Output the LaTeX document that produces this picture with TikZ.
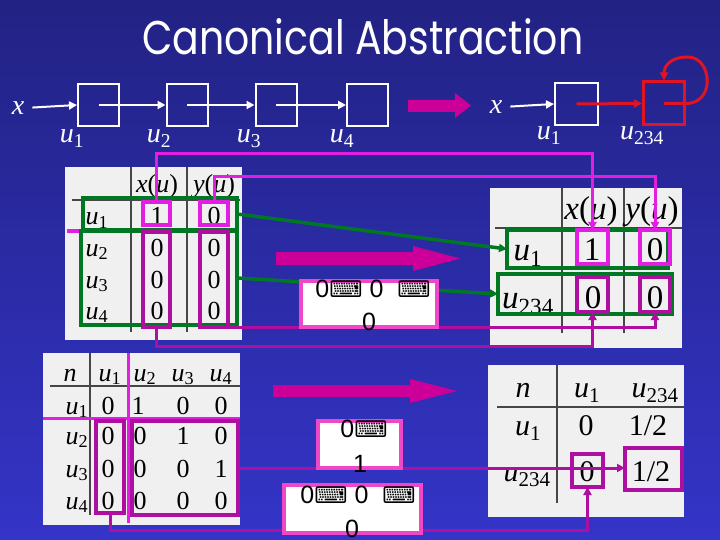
\documentclass[tikz,border=0pt]{standalone}
\usepackage{fontspec}
\setmainfont{Liberation Serif}
\newfontfamily\lsans{Liberation Sans}
\newfontfamily\dvs{DejaVu Sans}
\newfontfamily\ttlfont{Poppins}
\usetikzlibrary{arrows.meta}
\definecolor{bgtop}{RGB}{34,34,132}
\definecolor{bgbot}{RGB}{52,52,200}
\definecolor{lmagc}{RGB}{225,30,225}
\definecolor{dmagc}{RGB}{175,15,160}
\definecolor{bigc}{RGB}{204,0,153}
\definecolor{pinkc}{RGB}{240,70,200}
\definecolor{grnc}{RGB}{0,120,35}
\definecolor{redc}{RGB}{225,20,35}
\definecolor{tabc}{RGB}{240,240,240}
\definecolor{sepc}{RGB}{70,70,70}
\newcommand\uv[1]{\textit{u}\textsubscript{\upshape #1}}
\newcommand\kb{{\dvs\fontsize{23}{23}\selectfont ⌨}}
\newcommand\mkrect[6]{\node[#6, inner sep=0pt, outer sep=0pt, minimum width={(#4)-(#2)}, minimum height={(#5)-(#3)}] (#1) at ({((#2)+(#4))/2},{((#3)+(#5))/2}) {};}
\begin{document}
\begin{tikzpicture}[x=1pt,y=-1pt,
  wbox/.style={draw=white, line width=2pt, minimum width=41pt, minimum height=42pt, inner sep=0pt},
  wline/.style={white, line width=2pt},
  arr/.style={-{Triangle[length=8pt,width=8pt]}},
  lm/.style={draw=lmagc, line width=3.5pt},
  dm/.style={draw=dmagc, line width=3.5pt},
  gr/.style={draw=grnc, line width=4pt},
  tabbg/.style={fill=tabc},
  sepl/.style={draw=sepc, line width=1.2pt},
  rulel/.style={draw=sepc, line width=1.5pt},
  lbl/.style={text=white, inner sep=0pt, font=\fontsize{28}{30}\selectfont},
  ta/.style={inner sep=0pt, anchor=base, font=\fontsize{26}{28}\selectfont},
  tb/.style={inner sep=0pt, anchor=base, font=\fontsize{33}{35}\selectfont},
  tc/.style={inner sep=0pt, anchor=base, font=\fontsize{26}{28}\selectfont},
  td/.style={inner sep=0pt, anchor=base, font=\fontsize{30}{32}\selectfont},
  wmid/.style={fill=white, draw=pinkc, line width=4pt},
  mtx/.style={inner sep=0pt, align=center, font=\lsans\fontsize{25}{33}\selectfont}
]
\useasboundingbox (0,0) rectangle (720,540);
\shade[top color=bgtop, bottom color=bgbot] (0,0) rectangle (720,540);

% title
\node[anchor=south west, inner sep=0pt, text=white] (title) at (142,55)
  {\resizebox{441pt}{36pt}{\ttlfont Canonical Abstraction}};

% left list
\node[lbl] (xa) at (18,108) {\textit{x}};
\node[wbox] (a1) at (98.5,105) {};
\node[wbox] (a2) at (187,105) {};
\node[wbox] (a3) at (276,105) {};
\node[wbox] (a4) at (367.5,105) {};
\draw[wline,arr,shorten <=8pt] (xa.east) -- (a1.west);
\draw[wline,arr] (a1.center) -- (a2.west);
\draw[wline,arr] (a2.center) -- (a3.west);
\draw[wline,arr] (a3.center) -- (a4.west);
\node[lbl,anchor=base] (la1) at (72,143) {\uv{1}};
\node[lbl,anchor=base] (la2) at (159,143) {\uv{2}};
\node[lbl,anchor=base] (la3) at (249,143) {\uv{3}};
\node[lbl,anchor=base] (la4) at (342,143) {\uv{4}};

% top right big arrow
\fill[bigc] (408,100) -- (455,100) -- (455,93) -- (471,105.5) -- (455,118) -- (455,112) -- (408,112) -- cycle;

% right list
\node[lbl] (xb) at (496,107) {\textit{x}};
\node[wbox, minimum width=43pt] (c1) at (576.5,104) {};
\node[wbox, draw=redc, line width=3pt, minimum height=43pt] (c2) at (664,103.5) {};
\draw[wline,arr,shorten <=8pt] (xb.east) -- (c1.west);
\draw[redc, line width=3pt, arr] (c1.center) -- (c2.west);
\coordinate (lt) at (688,57);
\draw[redc, line width=3pt, arr] (c2.center) -- (c2.east) .. controls +(30,0) and +(24,0) .. (lt) .. controls +(-18,0) and +(0,-14) .. (c2.north);
\node[lbl,anchor=base] (lb1) at (549,140) {\uv{1}};
\node[lbl,anchor=base] (lb2) at (642,140) {\uv{234}};

% ===== table T1 (top left)
\mkrect{T1}{65}{167}{242}{340}{tabbg}
\draw[sepl] (131,167) -- (131,332);
\draw[sepl] (187,167) -- (187,332);
\draw[rulel] (72,200) -- (240,200);
\node[ta] (t1h1) at (157,193) {\textit{x}(\textit{u})};
\node[ta] (t1h2) at (214,193) {\textit{y}(\textit{u})};
\node[ta] (t1r1) at (97,225) {\uv{1}};
\node[ta] (t1r2) at (97,256) {\uv{2}};
\node[ta] (t1r3) at (97,288) {\uv{3}};
\node[ta] (t1r4) at (97,319) {\uv{4}};
\node[ta] (t1a1) at (157,225) {1};
\node[ta] (t1b1) at (214,225) {0};
\node[ta] (t1a2) at (157,256) {0};
\node[ta] (t1b2) at (214,256) {0};
\node[ta] (t1a3) at (157,288) {0};
\node[ta] (t1b3) at (214,288) {0};
\node[ta] (t1a4) at (157,319) {0};
\node[ta] (t1b4) at (214,319) {0};
\draw[lmagc, line width=3pt] (67,231) -- (237,231);

% ===== table T2 (top right)
\mkrect{T2}{490}{188}{682}{348}{tabbg}
\draw[sepl] (562,188) -- (562,333);
\draw[sepl] (624,188) -- (624,333);
\draw[rulel] (495,228) -- (682,228);
\node[tb] (t2h1) at (591,219) {\textit{x}(\textit{u})};
\node[tb] (t2h2) at (652,219) {\textit{y}(\textit{u})};
\node[tb] (t2r1) at (528,260) {\uv{1}};
\node[tb] (t2r2) at (528,308) {\uv{234}};
\node[tb] (t2a1) at (592,260) {1};
\node[tb] (t2b1) at (655,260) {0};
\node[tb] (t2a2) at (593,308) {0};
\node[tb] (t2b2) at (655,308) {0};

% ===== table T3 (bottom left)
\mkrect{T3}{43}{353}{240}{525}{tabbg}
\draw[sepl] (90,353) -- (90,515);
\draw[rulel] (50,386) -- (240,386);
\node[tc] (t3h0) at (70,381) {\textit{n}};
\node[tc] (t3h1) at (110,381) {\uv{1}};
\node[tc] (t3h2) at (145,381) {\uv{2}};
\node[tc] (t3h3) at (183,381) {\uv{3}};
\node[tc] (t3h4) at (221,381) {\uv{4}};
\node[tc] (t3r1) at (77,414) {\uv{1}};
\node[tc] (t3r2) at (77,444) {\uv{2}};
\node[tc] (t3r3) at (77,477) {\uv{3}};
\node[tc] (t3r4) at (77,509) {\uv{4}};
\node[tc] (t3v11) at (108,414) {0};
\node[tc] (t3v12) at (138,414) {1};
\node[tc] (t3v13) at (183,414) {0};
\node[tc] (t3v14) at (221,414) {0};
\node[tc] (t3v21) at (108,444) {0};
\node[tc] (t3v22) at (140,444) {0};
\node[tc] (t3v23) at (183,444) {1};
\node[tc] (t3v24) at (221,444) {0};
\node[tc] (t3v31) at (108,477) {0};
\node[tc] (t3v32) at (140,477) {0};
\node[tc] (t3v33) at (183,477) {0};
\node[tc] (t3v34) at (221,477) {1};
\node[tc] (t3v41) at (108,509) {0};
\node[tc] (t3v42) at (140,509) {0};
\node[tc] (t3v43) at (183,509) {0};
\node[tc] (t3v44) at (221,509) {0};
\draw[lmagc, line width=3pt] (128,353) -- (128,523);
\draw[lmagc, line width=3pt] (43,418) -- (240,418);

% ===== table T4 (bottom right)
\mkrect{T4}{488}{365}{684}{517}{tabbg}
\draw[sepl] (557,365) -- (557,503);
\draw[rulel] (497,407) -- (684,407);
\node[td] (t4h0) at (523,397) {\textit{n}};
\node[td] (t4h1) at (587,397) {\uv{1}};
\node[td] (t4h2) at (655,397) {\uv{234}};
\node[td] (t4r1) at (528,435) {\uv{1}};
\node[td] (t4r2) at (527,481) {\uv{234}};
\node[td] (t4v11) at (586,435) {0};
\node[td] (t4v12) at (648,435) {1/2};
\node[td] (t4v21) at (587,481) {0};
\node[td] (t4v22) at (651,481) {1/2};

% ===== big middle arrows
\fill[bigc] (276,252) -- (413,252) -- (413,246) -- (460,258.5) -- (413,271) -- (413,265) -- (276,265) -- cycle;
\fill[bigc] (273,385) -- (410,385) -- (410,379) -- (457,391) -- (410,403) -- (410,397) -- (273,397) -- cycle;

% ===== boxes
\mkrect{g1}{83}{198}{237}{230}{gr}
\mkrect{g2}{81}{231}{237}{325}{gr}
\mkrect{G1}{507}{230}{668}{268}{gr}
\mkrect{G2}{498}{274}{672}{314}{gr}
\mkrect{m1}{143}{202}{170}{225}{lm}
\mkrect{m2}{200}{202}{228}{225}{lm}
\mkrect{d1}{143}{232}{170}{327}{dm}
\mkrect{d2}{200}{232}{228}{327}{dm}
\mkrect{M1}{577}{230}{608}{264}{lm}
\mkrect{M2}{640}{230}{670}{264}{lm}
\mkrect{D1}{577}{277}{608}{312}{dm}
\mkrect{D2}{640}{277}{670}{312}{dm}
\mkrect{e1}{96}{421}{124}{513}{dm}
\mkrect{e2}{132}{421}{238}{515}{dm}
\mkrect{Q1}{572}{454}{603}{487}{dm}
\mkrect{Q2}{625}{448}{682}{490}{dm}

% ===== connectors
\draw[lm, line width=3pt, arr] (m1.north) -- ++(0,-48) -| (M1.north);
\draw[lm, line width=3pt, arr] (m2.north) -- ++(0,-25) -| (M2.north);
\draw[dm, line width=3pt, arr] (d1.south) -- ++(0,19) -| (D1.south);
\draw[dm, line width=3pt, arr] (d2.south east) -| (D2.south);
\draw[gr, line width=3.5pt, arr] (g1.east) -- (G1.west);
\draw[gr, line width=3.5pt, arr] (g2.east) -- (G2.west);
\draw[dm, line width=3pt, arr] (e2.east) -- (e2.east -| Q2.west);
\draw[dm, line width=3pt, arr] (e1.south) -- ++(0,17) -| (Q1.south);

% ===== middle white boxes
\mkrect{W1}{301}{281}{437}{327}{wmid}
\mkrect{W2}{318}{421}{401}{468}{wmid}
\mkrect{W3}{284}{485}{421}{533}{wmid}
\node[mtx, anchor=base] (W1t) at (373,297) {0\kb\ 0\ \ \kb};
\node[mtx, anchor=base] (W1u) at (369,330) {0};
\node[mtx, anchor=base] (W2t) at (364,437) {0\kb};
\node[mtx, anchor=base] (W2u) at (360,472) {1};
\node[mtx, anchor=base] (W3t) at (358,503) {0\kb\ 0\ \ \kb};
\node[mtx, anchor=base] (W3u) at (352,537) {0};
\end{tikzpicture}
\end{document}
